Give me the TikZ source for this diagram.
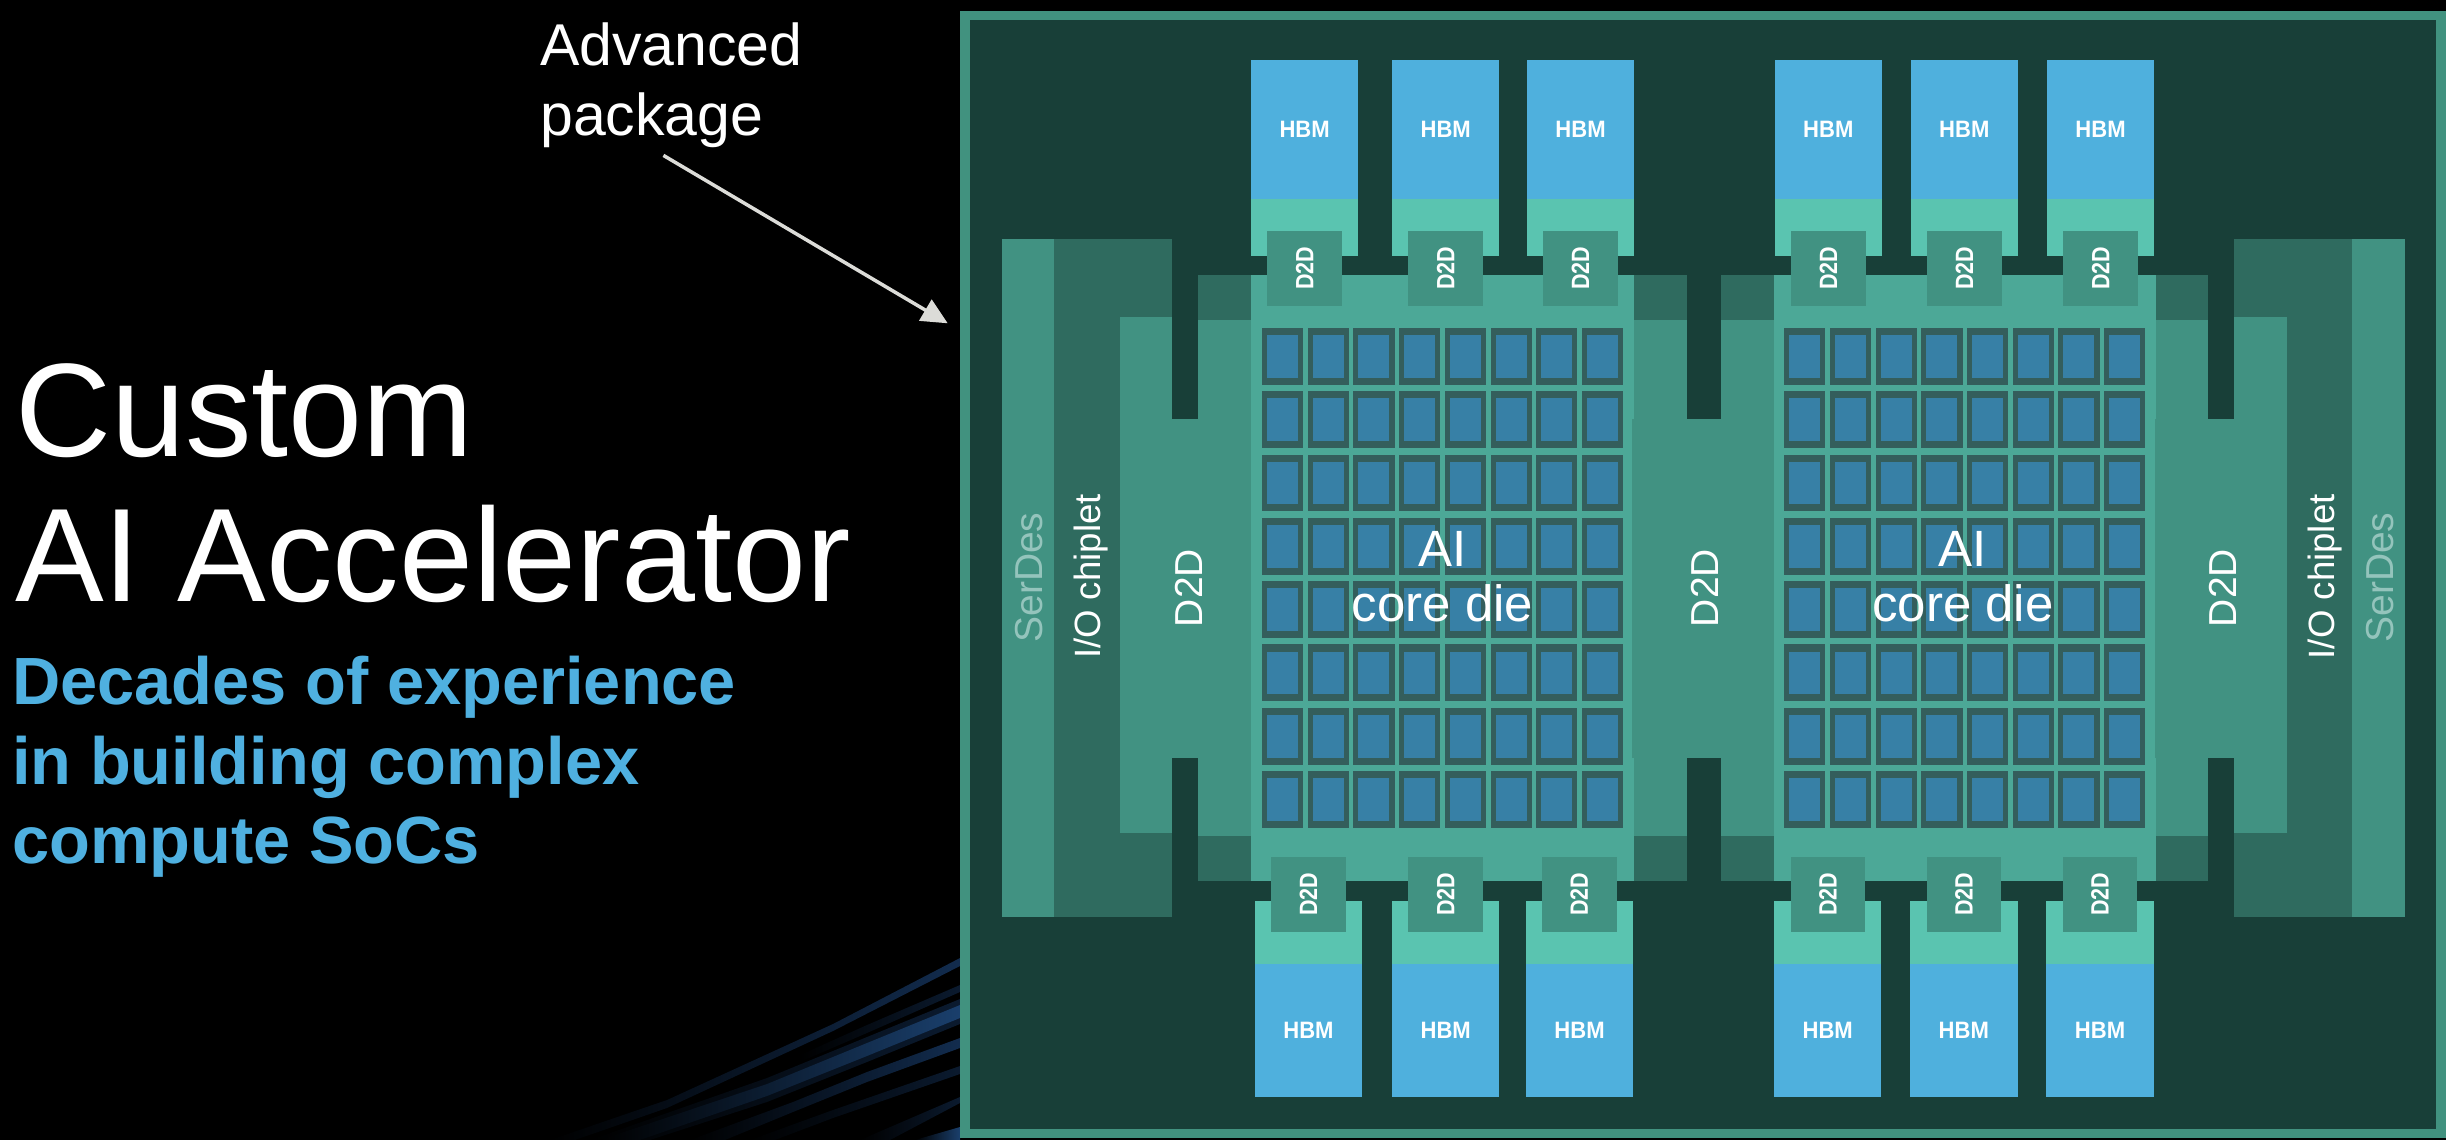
\documentclass[tikz,border=0pt]{standalone}
\usepackage{fontspec}
\usepackage{graphicx}
\setmainfont{Liberation Sans}
\usetikzlibrary{arrows.meta}
\definecolor{pkgframe}{HTML}{41927F}
\definecolor{pkgbase}{HTML}{183F38}
\definecolor{bandgreen}{HTML}{419282}
\definecolor{diegreen}{HTML}{4CA897}
\definecolor{darkgreen}{HTML}{2F6B5F}
\definecolor{hbmblue}{HTML}{4FB0DD}
\definecolor{hbmteal}{HTML}{5AC4B0}
\definecolor{tileedge}{HTML}{345E5C}
\definecolor{tileblue}{HTML}{3780A6}
\definecolor{serdestext}{HTML}{94C4BC}
\definecolor{subblue}{HTML}{4FB0E0}
\definecolor{arrowgray}{HTML}{DCDCD8}
\definecolor{streakmain}{HTML}{1A3F6C}
\definecolor{streakdim}{HTML}{122C4E}
\newcommand{\hbmtext}{\scalebox{.93}[1]{HBM}}
\newcommand{\dietext}{\scalebox{.86}[1]{D2D}}
\tikzset{
    band/.style={fill=bandgreen},
    corner/.style={fill=darkgreen},
    hbmbox/.style={fill=hbmblue,text=white,inner sep=0pt,minimum width=107.5pt,minimum height=139.7pt,font=\fontsize{23.7}{24}\selectfont\bfseries},
    d2dbox/.style={fill=bandgreen,text=white,inner sep=0pt,minimum size=74.6pt,rotate=90,font=\fontsize{25}{25}\selectfont\bfseries},
    sidelabel/.style={text=white,inner sep=0pt,rotate=90,anchor=base,font=\fontsize{39}{39}\selectfont},
    dielabel/.style={text=white,inner sep=0pt,anchor=north,align=center,font=\fontsize{51}{55}\selectfont},
    streak/.style={left color=black,right color=#1}
}
\begin{document}
\begin{tikzpicture}[x=1pt,y=-1pt]
    \useasboundingbox (0,0) rectangle (2446,1140);
    \fill[black] (0,0) rectangle (2446,1140);
    \shade[streak=streakdim] (550,1140)--(667,1100)--(833,1024)--(960,958)--(960,966)--(833,1031)--(667,1108)--(575,1140)--cycle;
    \shade[streak=streakdim!60!black] (590,1140)--(767,1078)--(867,1037)--(960,999)--(960,1024)--(867,1062)--(767,1102)--(650,1140)--cycle;
    \shade[streak=streakmain] (600,1140)--(767,1084)--(867,1043)--(960,1005)--(960,1018)--(867,1056)--(767,1096)--(640,1140)--cycle;
    \shade[streak=streakdim!60!black] (800,1055)--(867,1025)--(960,985)--(960,992)--(867,1033)--(800,1062)--cycle;
    \shade[streak=streakdim] (690,1140)--(793,1102)--(867,1072)--(960,1038)--(960,1048)--(867,1082)--(793,1112)--(725,1140)--cycle;
    \shade[streak=streakdim!60!black] (750,1140)--(833,1110)--(960,1066)--(960,1074)--(833,1118)--(775,1140)--cycle;
    \shade[streak=streakdim!60!black] (860,1140)--(960,1097)--(960,1103)--(890,1140)--cycle;
    \shade[streak=streakmain] (915,1140)--(960,1127)--(960,1140)--cycle;

    \node[anchor=north west,inner sep=0pt,align=left,text=white,font=\fontsize{133}{144.7}\selectfont] (titletext) at (15,363.7) {Custom\\AI Accelerator};
    \node[anchor=north west,inner sep=0pt,align=left,text=subblue,font=\fontsize{66.8}{79.5}\selectfont\bfseries] (subtext) at (12,656) {Decades of experience\\in building complex\\compute SoCs};
    \node[anchor=north west,inner sep=0pt,align=left,text=white,font=\fontsize{59}{70}\selectfont] (pkglabel) at (540,23) {Advanced\\package};
    \coordinate (pkgtip) at (947.7,323.3);
    \draw[arrowgray,line width=3.5pt,-{Triangle[length=26pt,width=24pt]}] ([xshift=-8pt,yshift=-7pt]pkglabel.south) -- (pkgtip);

    \fill[pkgframe] (960,10.7) rectangle (2446,1138);
    \fill[pkgbase] (970,20.4) rectangle (2435.7,1128.7);

    \fill[band] (1001.7,239.4) rectangle (1054,916.5);
    \fill[corner] (1054,239.4) rectangle (1172,916.5);
    \fill[band] (2352,239.4) rectangle (2405,916.5);
    \fill[corner] (2234.3,239.4) rectangle (2352,916.5);
    \foreach \xa/\xb in {1198/1251,1634.3/1686.5,1720.5/1773.5,2156/2208}{
        \fill[corner] (\xa,275) rectangle (\xb,881);
        \fill[band] (\xa,320) rectangle (\xb,836);
    }
    \fill[band] (1119.5,316.8) rectangle (1172,832.6);
    \fill[band] (1172,419.3) rectangle (1198,758.3);
    \fill[band] (2234.3,316.8) rectangle (2287,832.6);
    \fill[band] (2208,419.3) rectangle (2234.3,758.3);
    \fill[diegreen] (1250.8,275) rectangle (1634.3,881);
    \fill[diegreen] (1773.5,275) rectangle (2156,881);
    \fill[band] (1632.4,419.3) rectangle (1773.5,758.3);
    \fill[band] (2155,419.3) rectangle (2208,758.3);

    \foreach \diex in {1262,1784.2}{
        \foreach \c in {0,...,7}{
            \foreach \r in {0,...,7}{
                \fill[tileedge] (\diex+\c*45.7,327.9+\r*63.3) rectangle ++(41.2,56.8);
                \fill[tileblue] (\diex+5+\c*45.7,335+\r*63.3) rectangle ++(31,42.7);
            }
        }
    }

    \foreach \x [count=\i] in {1304.6,1445.7,1580.5,1828.3,1964.3,2100.5}{
        \fill[hbmteal] (\x-53.75,199) rectangle (\x+53.75,255.6);
        \node[hbmbox] (hbmtop\i) at (\x,129.5) {\hbmtext};
        \node[d2dbox] (d2dtop\i) at (\x,268.3) {\dietext};
    }
    \foreach \x [count=\i] in {1308.5,1445.7,1579.5,1827.7,1963.8,2100}{
        \fill[hbmteal] (\x-53.75,901.3) rectangle (\x+53.75,965);
        \node[hbmbox,minimum height=132.7pt] (hbmbot\i) at (\x,1030.6) {\hbmtext};
    }
    \foreach \x [count=\i] in {1308.5,1445.7,1579.2,1827.9,1963.9,2099.9}{
        \node[d2dbox] (d2dbot\i) at (\x,894.2) {\dietext};
    }

    \node[dielabel] (coreleft) at (1442.5,531.5) {AI\\core die};
    \node[dielabel] (coreright) at (1963,531.5) {AI\\core die};
    \node[sidelabel] (d2dleft) at (1202.7,588) {D2D};
    \node[sidelabel] (d2dmid) at (1718,588) {D2D};
    \node[sidelabel] (d2dright) at (2236.7,588) {D2D};
    \node[sidelabel,font=\fontsize{36.6}{36.6}\selectfont] (ioleft) at (1100,576.6) {I/O chiplet};
    \node[sidelabel,font=\fontsize{36.6}{36.6}\selectfont] (ioright) at (2334,576.8) {I/O chiplet};
    \node[sidelabel,text=serdestext] (serdesleft) at (1042.3,577.6) {SerDes};
    \node[sidelabel,text=serdestext] (serdesright) at (2393,577.5) {SerDes};
\end{tikzpicture}
\end{document}
